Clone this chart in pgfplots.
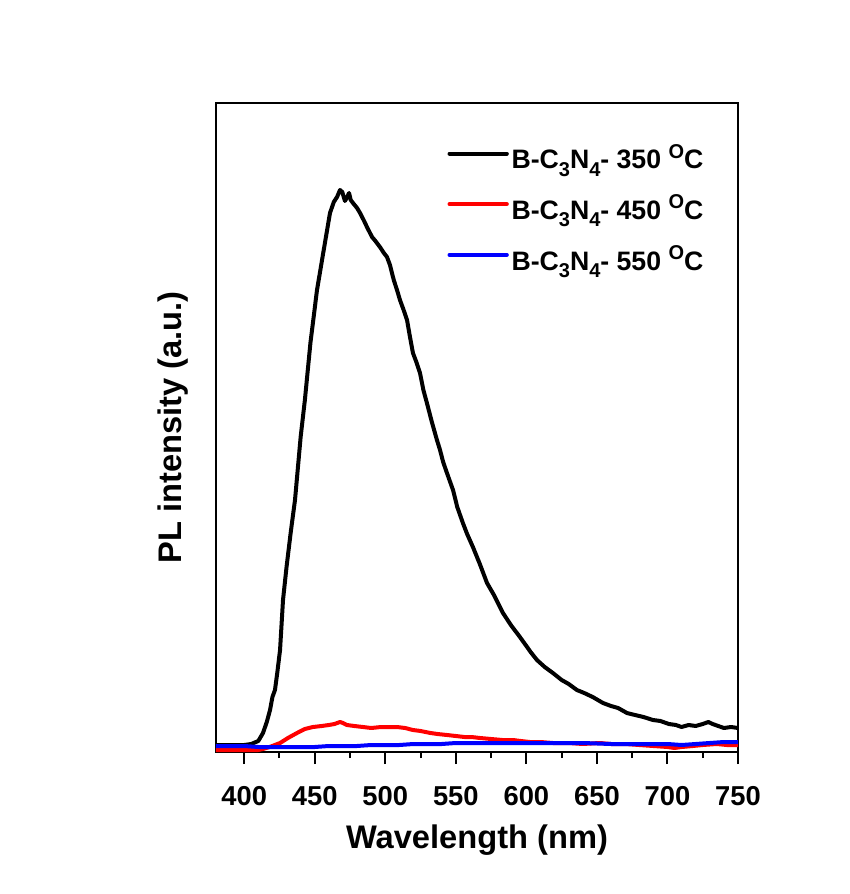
\documentclass[border=0pt]{standalone}
\usepackage{fontspec}
\setmainfont{Liberation Sans}
\usepackage{pgfplots}
\pgfplotsset{compat=1.18}
\newcommand{\lsub}[1]{\raisebox{-0.28em}{\fontsize{15}{15}\selectfont #1}}
\newcommand{\lsup}[1]{\raisebox{0.40em}{\fontsize{15}{15}\selectfont #1}}
\begin{document}
\begin{tikzpicture}
\path[use as bounding box] (-162pt,-106.5pt) rectangle (475.5pt,564pt);
\begin{axis}[
  at={(0,0)}, anchor=south west,
  scale only axis,
  width=391.5pt, height=486.75pt,
  xmin=380, xmax=750, ymin=0, ymax=649,
  axis line style={line width=1.5pt},
  xtick={400,450,...,750},
  minor xtick={425,475,...,725},
  ytick=\empty,
  xtick pos=left,
  xtick align=outside,
  major tick length=9pt, minor tick length=4.5pt,
  every tick/.append style={black, line width=1.5pt},
  /pgf/number format/assume math mode=true,
  xticklabel style={font=\fontsize{20.5}{24}\selectfont\bfseries, yshift=-13pt},
  xlabel={Wavelength (nm)},
  ylabel={PL intensity (a.u.)},
  xlabel style={font=\fontsize{24.5}{29}\selectfont\bfseries, at={(axis description cs:0.5,0)}, anchor=base, yshift=-72pt},
  ylabel style={font=\fontsize{24.5}{29}\selectfont\bfseries, at={(axis description cs:0,0.5)}, anchor=base, yshift=25.5pt},
  legend style={draw=none, fill=none, at={(axis description cs:0.443,0.941)}, anchor=north west,
    font=\fontsize{20}{24}\selectfont\bfseries, row sep=14pt, inner sep=0pt,
    nodes={inner sep=2pt}},
  legend cell align=left,
  legend image code/.code={\draw[#1, line width=3pt, line cap=round] (0pt,3pt) -- (43pt,3pt);},
]
\addplot[black, line width=3pt, line join=round] coordinates {
(380,7)(390,7)(400,7)(405,8)(410,11)(413.3,19)(416,30)(418.3,42)(420,55)(421.8,62)(423.5,80)(425.4,102)(427.5,152)(430,185)(433,220)(436,252)(440,315)(443,352)(447,410)(451.6,462)(456,499)(460.8,539)(463.5,550)(465.8,555)(467.9,562)(469.5,560)(471.4,551)(473,555)(474.3,559)(475.5,552)(477.1,549)(480,544)(482.1,539)(485,531)(487,525)(490.6,515)(493,511)(496.2,505)(499,499)(501.2,495)(503.3,487)(506,472)(508.3,462)(510.4,452)(513,442)(515.4,432)(517.5,415)(519.6,399)(522,390)(524.6,379)(527,362)(529.5,349)(533,330)(536.6,312)(538.8,302)(541,290)(543.7,279)(548,262)(551,245)(555,229)(558,218)(562.1,205)(567,188)(572.1,169)(577,157)(583.4,139)(589,127)(595.4,115)(600,106)(603,100)(607.5,92)(613,85)(618.8,79)(625,72)(630,68)(635.8,62)(641,59)(647,55)(654.3,49)(660,46)(665,44)(671.3,39)(677,37)(683,35)(689.7,32)(695,31)(701,28)(706,27)(710,25)(715,27)(720,26)(725,28)(729,30)(732,28)(736,26)(740,24)(745,25)(750,24)
};
\addlegendentry{B-C\lsub{3}N\lsub{4}- 350 \lsup{O}C}
\addplot[red, line width=3pt, line join=round] coordinates {
(380,2)(390,2)(400,2)(410,2)(413.3,3)(418,5)(425.4,9)(431,14)(437.4,19)(443,23)(448.7,25)(455,26)(460,27)(464,28)(467.9,30)(470,29)(472.8,27)(478,26)(484.2,25)(490,24)(497,25)(503,25)(508.3,25)(514,24)(519.6,22)(525,21)(532,19)(537,18)(543.7,17)(550,16)(556,15)(561,15)(567.1,14)(575,13)(583,12)(590.5,12)(596,11)(602.5,10)(610,10)(618.8,9)(630,9)(640,8)(652,9)(660,8)(670,8)(680,7)(690,6)(700,5)(705,4)(710,5)(718,6)(725,7)(735,8)(742,7)(750,7)
};
\addlegendentry{B-C\lsub{3}N\lsub{4}- 450 \lsup{O}C}
\addplot[blue, line width=3pt, line join=round] coordinates {
(380,6)(390,6)(400,6)(410,5)(420,5)(430,5)(440,5)(450,5)(460,6)(470,6)(480,6)(490,7)(500,7)(510,7)(520,8)(530,8)(540,8)(550,9)(560,9)(570,9)(580,9)(590,9)(600,9)(620,9)(640,9)(660,8)(680,8)(700,8)(710,7)(720,8)(730,9)(740,10)(750,10)
};
\addlegendentry{B-C\lsub{3}N\lsub{4}- 550 \lsup{O}C}
\end{axis}
\end{tikzpicture}
\end{document}
